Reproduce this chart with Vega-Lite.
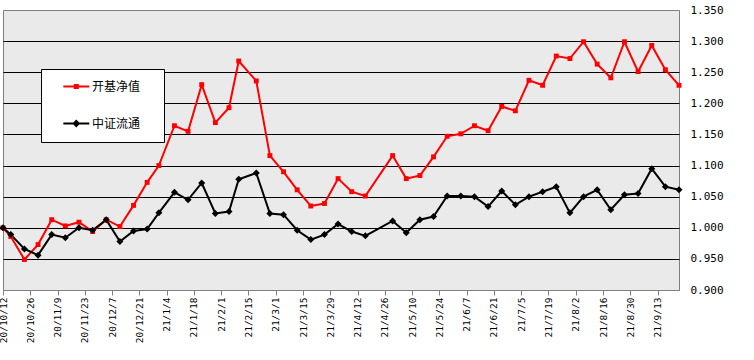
{
 "$schema": "https://vega.github.io/schema/vega-lite/v6.json",
 "width": 676, "height": 280,
 "autosize": {"type": "none"},
 "padding": {"left": 3, "top": 10, "right": 75, "bottom": 70},
 "background": "white",
 "config": {"view": {"stroke": "#808080", "fill": "#eaeaea", "strokeWidth": 1}},
 "data": {"values": [
  {"date":"2020-10-12","开基净值":1.000,"中证流通":1.000},
  {"date":"2020-10-16","开基净值":0.986,"中证流通":0.989},
  {"date":"2020-10-23","开基净值":0.949,"中证流通":0.966},
  {"date":"2020-10-30","开基净值":0.973,"中证流通":0.956},
  {"date":"2020-11-06","开基净值":1.013,"中证流通":0.989},
  {"date":"2020-11-13","开基净值":1.003,"中证流通":0.984},
  {"date":"2020-11-20","开基净值":1.009,"中证流通":1.000},
  {"date":"2020-11-27","开基净值":0.994,"中证流通":0.996},
  {"date":"2020-12-04","开基净值":1.013,"中证流通":1.013},
  {"date":"2020-12-11","开基净值":1.002,"中证流通":0.978},
  {"date":"2020-12-18","开基净值":1.036,"中证流通":0.995},
  {"date":"2020-12-25","开基净值":1.073,"中证流通":0.998},
  {"date":"2020-12-31","开基净值":1.100,"中证流通":1.024},
  {"date":"2021-01-08","开基净值":1.164,"中证流通":1.057},
  {"date":"2021-01-15","开基净值":1.155,"中证流通":1.045},
  {"date":"2021-01-22","开基净值":1.230,"中证流通":1.072},
  {"date":"2021-01-29","开基净值":1.169,"中证流通":1.023},
  {"date":"2021-02-05","开基净值":1.193,"中证流通":1.026},
  {"date":"2021-02-10","开基净值":1.268,"中证流通":1.078},
  {"date":"2021-02-19","开基净值":1.236,"中证流通":1.088},
  {"date":"2021-02-26","开基净值":1.116,"中证流通":1.023},
  {"date":"2021-03-05","开基净值":1.090,"中证流通":1.021},
  {"date":"2021-03-12","开基净值":1.061,"中证流通":0.996},
  {"date":"2021-03-19","开基净值":1.035,"中证流通":0.981},
  {"date":"2021-03-26","开基净值":1.039,"中证流通":0.989},
  {"date":"2021-04-02","开基净值":1.079,"中证流通":1.006},
  {"date":"2021-04-09","开基净值":1.058,"中证流通":0.994},
  {"date":"2021-04-16","开基净值":1.051,"中证流通":0.987},
  {"date":"2021-04-30","开基净值":1.116,"中证流通":1.011},
  {"date":"2021-05-07","开基净值":1.079,"中证流通":0.992},
  {"date":"2021-05-14","开基净值":1.084,"中证流通":1.013},
  {"date":"2021-05-21","开基净值":1.114,"中证流通":1.018},
  {"date":"2021-05-28","开基净值":1.147,"中证流通":1.051},
  {"date":"2021-06-04","开基净值":1.151,"中证流通":1.051},
  {"date":"2021-06-11","开基净值":1.164,"中证流通":1.050},
  {"date":"2021-06-18","开基净值":1.156,"中证流通":1.034},
  {"date":"2021-06-25","开基净值":1.195,"中证流通":1.059},
  {"date":"2021-07-02","开基净值":1.188,"中证流通":1.037},
  {"date":"2021-07-09","开基净值":1.237,"中证流通":1.050},
  {"date":"2021-07-16","开基净值":1.229,"中证流通":1.058},
  {"date":"2021-07-23","开基净值":1.276,"中证流通":1.066},
  {"date":"2021-07-30","开基净值":1.272,"中证流通":1.024},
  {"date":"2021-08-06","开基净值":1.299,"中证流通":1.050},
  {"date":"2021-08-13","开基净值":1.263,"中证流通":1.061},
  {"date":"2021-08-20","开基净值":1.241,"中证流通":1.029},
  {"date":"2021-08-27","开基净值":1.299,"中证流通":1.053},
  {"date":"2021-09-03","开基净值":1.251,"中证流通":1.055},
  {"date":"2021-09-10","开基净值":1.293,"中证流通":1.095},
  {"date":"2021-09-17","开基净值":1.254,"中证流通":1.066},
  {"date":"2021-09-24","开基净值":1.229,"中证流通":1.061}
 ]},
 "transform": [{"fold": ["开基净值", "中证流通"], "as": ["series", "value"]}],
 "encoding": {
  "x": {"field": "date", "type": "temporal",
   "scale": {"type": "utc", "nice": false, "domain": [{"year": 2020, "month": 10, "date": 12, "utc": true}, {"year": 2021, "month": 9, "date": 24, "utc": true}]},
   "axis": {"title": null, "grid": false, "format": "%y/%-m/%-d", "labelAngle": 270,
    "labelFont": "DejaVu Sans Mono", "labelFontSize": 9.5, "labelColor": "#000000",
    "tickSize": 5, "tickColor": "#808080", "domainColor": "#808080", "labelPadding": 2,
    "labelOverlap": false, "labelFlush": false, "labelBound": false,
    "values": [
     {"year": 2020, "month": 10, "date": 12, "utc": true},
     {"year": 2020, "month": 10, "date": 26, "utc": true},
     {"year": 2020, "month": 11, "date": 9, "utc": true},
     {"year": 2020, "month": 11, "date": 23, "utc": true},
     {"year": 2020, "month": 12, "date": 7, "utc": true},
     {"year": 2020, "month": 12, "date": 21, "utc": true},
     {"year": 2021, "month": 1, "date": 4, "utc": true},
     {"year": 2021, "month": 1, "date": 18, "utc": true},
     {"year": 2021, "month": 2, "date": 1, "utc": true},
     {"year": 2021, "month": 2, "date": 15, "utc": true},
     {"year": 2021, "month": 3, "date": 1, "utc": true},
     {"year": 2021, "month": 3, "date": 15, "utc": true},
     {"year": 2021, "month": 3, "date": 29, "utc": true},
     {"year": 2021, "month": 4, "date": 12, "utc": true},
     {"year": 2021, "month": 4, "date": 26, "utc": true},
     {"year": 2021, "month": 5, "date": 10, "utc": true},
     {"year": 2021, "month": 5, "date": 24, "utc": true},
     {"year": 2021, "month": 6, "date": 7, "utc": true},
     {"year": 2021, "month": 6, "date": 21, "utc": true},
     {"year": 2021, "month": 7, "date": 5, "utc": true},
     {"year": 2021, "month": 7, "date": 19, "utc": true},
     {"year": 2021, "month": 8, "date": 2, "utc": true},
     {"year": 2021, "month": 8, "date": 16, "utc": true},
     {"year": 2021, "month": 8, "date": 30, "utc": true},
     {"year": 2021, "month": 9, "date": 13, "utc": true}
    ]}},
  "y": {"field": "value", "type": "quantitative",
   "scale": {"domain": [0.9, 1.35], "nice": false, "zero": false},
   "axis": {"orient": "right", "title": null, "values": [0.9, 0.95, 1.0, 1.05, 1.1, 1.15, 1.2, 1.25, 1.3, 1.35],
    "format": ".3f", "ticks": false, "domain": false, "labelPadding": 11,
    "labelFont": "DejaVu Sans Mono", "labelFontSize": 11, "labelColor": "#000000",
    "labelFlush": false, "labelOverlap": false, "labelBound": false,
    "grid": true, "gridWidth": 1,
    "gridColor": {"condition": {"test": "datum.value < 0.92 || datum.value > 1.33", "value": "transparent"}, "value": "#000000"}}},
  "color": {"field": "series", "type": "nominal",
   "scale": {"domain": ["开基净值", "中证流通"], "range": ["#ff0000", "#000000"]},
   "legend": {"orient": "none", "legendX": 38, "legendY": 59, "title": null,
    "fillColor": "#ffffff", "strokeColor": "#000000", "padding": 11, "rowPadding": 23,
    "symbolSize": 110, "symbolStrokeWidth": 2, "labelOffset": 27,
    "labelFont": "Noto Sans CJK SC", "labelFontSize": 12, "labelColor": "#000000",
    "encode": {"symbols": {"update": {
     "shape": {"signal": "datum.value === '开基净值' ? 'M0.92,0H5.87M3.1,-0.29H3.68V0.29H3.1ZM17.2,0' : 'M0.92,0H5.87M3.39,-0.48L3.87,0L3.39,0.48L2.91,0ZM17.2,0'"},
     "fill": {"signal": "datum.value === '开基净值' ? '#ff0000' : '#000000'"},
     "stroke": {"signal": "datum.value === '开基净值' ? '#ff0000' : '#000000'"},
     "strokeWidth": {"value": 2},
     "opacity": {"value": 1}
    }}}}}
 },
 "layer": [
  {"mark": {"type": "line", "strokeWidth": 2}},
  {"transform": [{"filter": "datum.series === '开基净值'"}],
   "mark": {"type": "point", "filled": true, "opacity": 1, "size": 49, "shape": "M-0.7,-0.7H0.7V0.7H-0.7Z"}},
  {"transform": [{"filter": "datum.series === '中证流通'"}],
   "mark": {"type": "point", "filled": true, "opacity": 1, "size": 49, "shape": "diamond"}}
 ]
}
